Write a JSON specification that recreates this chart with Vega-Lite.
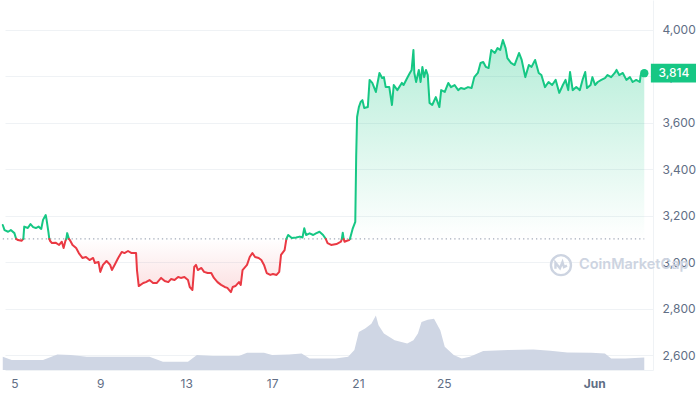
{
"$schema":"https://vega.github.io/schema/vega-lite/v6.json",
"width":648,"height":370,"padding":0,"background":"white",
"config":{"view":{"stroke":null},"font":"Inter"},
"datasets":{
"price":[
{"date":"2024-05-04T11:00","price":3160,"seg":"A","side":"up"},
{"date":"2024-05-04T13:00","price":3138,"seg":"A","side":"up"},
{"date":"2024-05-04T17:00","price":3131,"seg":"A","side":"up"},
{"date":"2024-05-04T20:00","price":3138,"seg":"A","side":"up"},
{"date":"2024-05-05T00:00","price":3125,"seg":"A","side":"up"},
{"date":"2024-05-05T02:00","price":3100,"seg":"A","side":"up"},
{"date":"2024-05-05T02:00","price":3100,"seg":"B","side":"down"},
{"date":"2024-05-05T04:00","price":3095,"seg":"B","side":"down"},
{"date":"2024-05-05T08:00","price":3092,"seg":"B","side":"down"},
{"date":"2024-05-05T10:00","price":3100,"seg":"B","side":"down"},
{"date":"2024-05-05T10:00","price":3100,"seg":"C","side":"up"},
{"date":"2024-05-05T11:00","price":3153,"seg":"C","side":"up"},
{"date":"2024-05-05T15:00","price":3147,"seg":"C","side":"up"},
{"date":"2024-05-05T18:00","price":3164,"seg":"C","side":"up"},
{"date":"2024-05-05T21:00","price":3151,"seg":"C","side":"up"},
{"date":"2024-05-06T00:00","price":3147,"seg":"C","side":"up"},
{"date":"2024-05-06T03:00","price":3153,"seg":"C","side":"up"},
{"date":"2024-05-06T06:00","price":3143,"seg":"C","side":"up"},
{"date":"2024-05-06T08:00","price":3182,"seg":"C","side":"up"},
{"date":"2024-05-06T11:00","price":3203,"seg":"C","side":"up"},
{"date":"2024-05-06T12:00","price":3182,"seg":"C","side":"up"},
{"date":"2024-05-06T14:00","price":3130,"seg":"C","side":"up"},
{"date":"2024-05-06T15:00","price":3100,"seg":"C","side":"up"},
{"date":"2024-05-06T15:00","price":3100,"seg":"D","side":"down"},
{"date":"2024-05-06T16:00","price":3091,"seg":"D","side":"down"},
{"date":"2024-05-06T18:00","price":3082,"seg":"D","side":"down"},
{"date":"2024-05-06T22:00","price":3084,"seg":"D","side":"down"},
{"date":"2024-05-07T02:00","price":3074,"seg":"D","side":"down"},
{"date":"2024-05-07T05:00","price":3088,"seg":"D","side":"down"},
{"date":"2024-05-07T07:00","price":3061,"seg":"D","side":"down"},
{"date":"2024-05-07T09:00","price":3091,"seg":"D","side":"down"},
{"date":"2024-05-07T10:00","price":3100,"seg":"D","side":"down"},
{"date":"2024-05-07T10:00","price":3100,"seg":"E","side":"up"},
{"date":"2024-05-07T11:00","price":3125,"seg":"E","side":"up"},
{"date":"2024-05-07T13:00","price":3100,"seg":"E","side":"up"},
{"date":"2024-05-07T13:00","price":3100,"seg":"F","side":"down"},
{"date":"2024-05-07T14:00","price":3095,"seg":"F","side":"down"},
{"date":"2024-05-07T17:00","price":3074,"seg":"F","side":"down"},
{"date":"2024-05-07T21:00","price":3061,"seg":"F","side":"down"},
{"date":"2024-05-08T00:00","price":3039,"seg":"F","side":"down"},
{"date":"2024-05-08T04:00","price":3018,"seg":"F","side":"down"},
{"date":"2024-05-08T08:00","price":3022,"seg":"F","side":"down"},
{"date":"2024-05-08T12:00","price":3009,"seg":"F","side":"down"},
{"date":"2024-05-08T16:00","price":3018,"seg":"F","side":"down"},
{"date":"2024-05-08T18:00","price":2996,"seg":"F","side":"down"},
{"date":"2024-05-08T22:00","price":3001,"seg":"F","side":"down"},
{"date":"2024-05-09T00:00","price":2958,"seg":"F","side":"down"},
{"date":"2024-05-09T03:00","price":2988,"seg":"F","side":"down"},
{"date":"2024-05-09T07:00","price":3005,"seg":"F","side":"down"},
{"date":"2024-05-09T11:00","price":2988,"seg":"F","side":"down"},
{"date":"2024-05-09T13:00","price":2966,"seg":"F","side":"down"},
{"date":"2024-05-09T16:00","price":2988,"seg":"F","side":"down"},
{"date":"2024-05-09T20:00","price":3018,"seg":"F","side":"down"},
{"date":"2024-05-10T00:00","price":3044,"seg":"F","side":"down"},
{"date":"2024-05-10T03:00","price":3039,"seg":"F","side":"down"},
{"date":"2024-05-10T07:00","price":3048,"seg":"F","side":"down"},
{"date":"2024-05-10T11:00","price":3039,"seg":"F","side":"down"},
{"date":"2024-05-10T16:00","price":3039,"seg":"F","side":"down"},
{"date":"2024-05-10T17:00","price":2966,"seg":"F","side":"down"},
{"date":"2024-05-10T19:00","price":2897,"seg":"F","side":"down"},
{"date":"2024-05-11T00:00","price":2910,"seg":"F","side":"down"},
{"date":"2024-05-11T03:00","price":2914,"seg":"F","side":"down"},
{"date":"2024-05-11T07:00","price":2923,"seg":"F","side":"down"},
{"date":"2024-05-11T11:00","price":2910,"seg":"F","side":"down"},
{"date":"2024-05-11T15:00","price":2910,"seg":"F","side":"down"},
{"date":"2024-05-11T20:00","price":2932,"seg":"F","side":"down"},
{"date":"2024-05-12T00:00","price":2919,"seg":"F","side":"down"},
{"date":"2024-05-12T04:00","price":2914,"seg":"F","side":"down"},
{"date":"2024-05-12T07:00","price":2927,"seg":"F","side":"down"},
{"date":"2024-05-12T11:00","price":2923,"seg":"F","side":"down"},
{"date":"2024-05-12T15:00","price":2936,"seg":"F","side":"down"},
{"date":"2024-05-12T18:00","price":2932,"seg":"F","side":"down"},
{"date":"2024-05-12T22:00","price":2936,"seg":"F","side":"down"},
{"date":"2024-05-13T02:00","price":2923,"seg":"F","side":"down"},
{"date":"2024-05-13T04:00","price":2893,"seg":"F","side":"down"},
{"date":"2024-05-13T07:00","price":2880,"seg":"F","side":"down"},
{"date":"2024-05-13T09:00","price":2979,"seg":"F","side":"down"},
{"date":"2024-05-13T11:00","price":2988,"seg":"F","side":"down"},
{"date":"2024-05-13T13:00","price":2966,"seg":"F","side":"down"},
{"date":"2024-05-13T17:00","price":2975,"seg":"F","side":"down"},
{"date":"2024-05-13T20:00","price":2958,"seg":"F","side":"down"},
{"date":"2024-05-14T00:00","price":2953,"seg":"F","side":"down"},
{"date":"2024-05-14T04:00","price":2953,"seg":"F","side":"down"},
{"date":"2024-05-14T07:00","price":2932,"seg":"F","side":"down"},
{"date":"2024-05-14T11:00","price":2914,"seg":"F","side":"down"},
{"date":"2024-05-14T15:00","price":2902,"seg":"F","side":"down"},
{"date":"2024-05-14T19:00","price":2893,"seg":"F","side":"down"},
{"date":"2024-05-14T22:00","price":2889,"seg":"F","side":"down"},
{"date":"2024-05-15T02:00","price":2871,"seg":"F","side":"down"},
{"date":"2024-05-15T04:00","price":2893,"seg":"F","side":"down"},
{"date":"2024-05-15T07:00","price":2897,"seg":"F","side":"down"},
{"date":"2024-05-15T11:00","price":2914,"seg":"F","side":"down"},
{"date":"2024-05-15T13:00","price":2902,"seg":"F","side":"down"},
{"date":"2024-05-15T15:00","price":2966,"seg":"F","side":"down"},
{"date":"2024-05-15T20:00","price":2988,"seg":"F","side":"down"},
{"date":"2024-05-15T23:00","price":3022,"seg":"F","side":"down"},
{"date":"2024-05-16T02:00","price":3039,"seg":"F","side":"down"},
{"date":"2024-05-16T05:00","price":3022,"seg":"F","side":"down"},
{"date":"2024-05-16T09:00","price":3018,"seg":"F","side":"down"},
{"date":"2024-05-16T12:00","price":3009,"seg":"F","side":"down"},
{"date":"2024-05-16T15:00","price":2988,"seg":"F","side":"down"},
{"date":"2024-05-16T18:00","price":2953,"seg":"F","side":"down"},
{"date":"2024-05-16T22:00","price":2945,"seg":"F","side":"down"},
{"date":"2024-05-17T01:00","price":2949,"seg":"F","side":"down"},
{"date":"2024-05-17T05:00","price":2945,"seg":"F","side":"down"},
{"date":"2024-05-17T08:00","price":2958,"seg":"F","side":"down"},
{"date":"2024-05-17T10:00","price":3031,"seg":"F","side":"down"},
{"date":"2024-05-17T14:00","price":3052,"seg":"F","side":"down"},
{"date":"2024-05-17T16:00","price":3100,"seg":"F","side":"down"},
{"date":"2024-05-17T16:00","price":3100,"seg":"G","side":"up"},
{"date":"2024-05-17T18:00","price":3117,"seg":"G","side":"up"},
{"date":"2024-05-17T22:00","price":3104,"seg":"G","side":"up"},
{"date":"2024-05-18T03:00","price":3106,"seg":"G","side":"up"},
{"date":"2024-05-18T07:00","price":3110,"seg":"G","side":"up"},
{"date":"2024-05-18T10:00","price":3106,"seg":"G","side":"up"},
{"date":"2024-05-18T12:00","price":3146,"seg":"G","side":"up"},
{"date":"2024-05-18T14:00","price":3117,"seg":"G","side":"up"},
{"date":"2024-05-18T18:00","price":3124,"seg":"G","side":"up"},
{"date":"2024-05-18T22:00","price":3117,"seg":"G","side":"up"},
{"date":"2024-05-19T01:00","price":3124,"seg":"G","side":"up"},
{"date":"2024-05-19T05:00","price":3131,"seg":"G","side":"up"},
{"date":"2024-05-19T09:00","price":3117,"seg":"G","side":"up"},
{"date":"2024-05-19T12:00","price":3100,"seg":"G","side":"up"},
{"date":"2024-05-19T12:00","price":3100,"seg":"H","side":"down"},
{"date":"2024-05-19T14:00","price":3082,"seg":"H","side":"down"},
{"date":"2024-05-19T18:00","price":3074,"seg":"H","side":"down"},
{"date":"2024-05-20T00:00","price":3078,"seg":"H","side":"down"},
{"date":"2024-05-20T05:00","price":3088,"seg":"H","side":"down"},
{"date":"2024-05-20T06:00","price":3100,"seg":"H","side":"down"},
{"date":"2024-05-20T06:00","price":3100,"seg":"I","side":"up"},
{"date":"2024-05-20T07:00","price":3127,"seg":"I","side":"up"},
{"date":"2024-05-20T08:00","price":3100,"seg":"I","side":"up"},
{"date":"2024-05-20T08:00","price":3100,"seg":"J","side":"down"},
{"date":"2024-05-20T09:00","price":3088,"seg":"J","side":"down"},
{"date":"2024-05-20T11:00","price":3091,"seg":"J","side":"down"},
{"date":"2024-05-20T14:00","price":3095,"seg":"J","side":"down"},
{"date":"2024-05-20T15:00","price":3100,"seg":"J","side":"down"},
{"date":"2024-05-20T15:00","price":3100,"seg":"K","side":"up"},
{"date":"2024-05-20T18:00","price":3143,"seg":"K","side":"up"},
{"date":"2024-05-20T21:00","price":3173,"seg":"K","side":"up"},
{"date":"2024-05-20T22:00","price":3453,"seg":"K","side":"up"},
{"date":"2024-05-20T23:00","price":3625,"seg":"K","side":"up"},
{"date":"2024-05-21T01:00","price":3668,"seg":"K","side":"up"},
{"date":"2024-05-21T03:00","price":3690,"seg":"K","side":"up"},
{"date":"2024-05-21T05:00","price":3698,"seg":"K","side":"up"},
{"date":"2024-05-21T07:00","price":3664,"seg":"K","side":"up"},
{"date":"2024-05-21T11:00","price":3668,"seg":"K","side":"up"},
{"date":"2024-05-21T13:00","price":3785,"seg":"K","side":"up"},
{"date":"2024-05-21T16:00","price":3772,"seg":"K","side":"up"},
{"date":"2024-05-21T20:00","price":3733,"seg":"K","side":"up"},
{"date":"2024-05-22T00:00","price":3815,"seg":"K","side":"up"},
{"date":"2024-05-22T03:00","price":3793,"seg":"K","side":"up"},
{"date":"2024-05-22T05:00","price":3797,"seg":"K","side":"up"},
{"date":"2024-05-22T07:00","price":3754,"seg":"K","side":"up"},
{"date":"2024-05-22T11:00","price":3754,"seg":"K","side":"up"},
{"date":"2024-05-22T14:00","price":3677,"seg":"K","side":"up"},
{"date":"2024-05-22T16:00","price":3763,"seg":"K","side":"up"},
{"date":"2024-05-22T20:00","price":3741,"seg":"K","side":"up"},
{"date":"2024-05-23T01:00","price":3772,"seg":"K","side":"up"},
{"date":"2024-05-23T03:00","price":3763,"seg":"K","side":"up"},
{"date":"2024-05-23T07:00","price":3793,"seg":"K","side":"up"},
{"date":"2024-05-23T10:00","price":3815,"seg":"K","side":"up"},
{"date":"2024-05-23T12:00","price":3828,"seg":"K","side":"up"},
{"date":"2024-05-23T14:00","price":3914,"seg":"K","side":"up"},
{"date":"2024-05-23T15:00","price":3815,"seg":"K","side":"up"},
{"date":"2024-05-23T17:00","price":3776,"seg":"K","side":"up"},
{"date":"2024-05-23T20:00","price":3828,"seg":"K","side":"up"},
{"date":"2024-05-23T22:00","price":3776,"seg":"K","side":"up"},
{"date":"2024-05-24T00:00","price":3841,"seg":"K","side":"up"},
{"date":"2024-05-24T02:00","price":3797,"seg":"K","side":"up"},
{"date":"2024-05-24T04:00","price":3828,"seg":"K","side":"up"},
{"date":"2024-05-24T06:00","price":3806,"seg":"K","side":"up"},
{"date":"2024-05-24T08:00","price":3686,"seg":"K","side":"up"},
{"date":"2024-05-24T11:00","price":3677,"seg":"K","side":"up"},
{"date":"2024-05-24T15:00","price":3711,"seg":"K","side":"up"},
{"date":"2024-05-24T19:00","price":3668,"seg":"K","side":"up"},
{"date":"2024-05-24T21:00","price":3741,"seg":"K","side":"up"},
{"date":"2024-05-25T01:00","price":3733,"seg":"K","side":"up"},
{"date":"2024-05-25T05:00","price":3772,"seg":"K","side":"up"},
{"date":"2024-05-25T08:00","price":3754,"seg":"K","side":"up"},
{"date":"2024-05-25T12:00","price":3763,"seg":"K","side":"up"},
{"date":"2024-05-25T16:00","price":3741,"seg":"K","side":"up"},
{"date":"2024-05-25T19:00","price":3750,"seg":"K","side":"up"},
{"date":"2024-05-25T23:00","price":3746,"seg":"K","side":"up"},
{"date":"2024-05-26T03:00","price":3754,"seg":"K","side":"up"},
{"date":"2024-05-26T07:00","price":3750,"seg":"K","side":"up"},
{"date":"2024-05-26T10:00","price":3797,"seg":"K","side":"up"},
{"date":"2024-05-26T14:00","price":3815,"seg":"K","side":"up"},
{"date":"2024-05-26T17:00","price":3858,"seg":"K","side":"up"},
{"date":"2024-05-26T20:00","price":3862,"seg":"K","side":"up"},
{"date":"2024-05-26T23:00","price":3841,"seg":"K","side":"up"},
{"date":"2024-05-27T02:00","price":3836,"seg":"K","side":"up"},
{"date":"2024-05-27T05:00","price":3914,"seg":"K","side":"up"},
{"date":"2024-05-27T09:00","price":3901,"seg":"K","side":"up"},
{"date":"2024-05-27T12:00","price":3922,"seg":"K","side":"up"},
{"date":"2024-05-27T15:00","price":3914,"seg":"K","side":"up"},
{"date":"2024-05-27T18:00","price":3957,"seg":"K","side":"up"},
{"date":"2024-05-27T21:00","price":3922,"seg":"K","side":"up"},
{"date":"2024-05-27T23:00","price":3879,"seg":"K","side":"up"},
{"date":"2024-05-28T03:00","price":3858,"seg":"K","side":"up"},
{"date":"2024-05-28T07:00","price":3849,"seg":"K","side":"up"},
{"date":"2024-05-28T12:00","price":3901,"seg":"K","side":"up"},
{"date":"2024-05-28T15:00","price":3871,"seg":"K","side":"up"},
{"date":"2024-05-28T19:00","price":3797,"seg":"K","side":"up"},
{"date":"2024-05-28T23:00","price":3849,"seg":"K","side":"up"},
{"date":"2024-05-29T02:00","price":3841,"seg":"K","side":"up"},
{"date":"2024-05-29T06:00","price":3871,"seg":"K","side":"up"},
{"date":"2024-05-29T10:00","price":3815,"seg":"K","side":"up"},
{"date":"2024-05-29T13:00","price":3806,"seg":"K","side":"up"},
{"date":"2024-05-29T17:00","price":3754,"seg":"K","side":"up"},
{"date":"2024-05-29T21:00","price":3776,"seg":"K","side":"up"},
{"date":"2024-05-30T01:00","price":3763,"seg":"K","side":"up"},
{"date":"2024-05-30T05:00","price":3785,"seg":"K","side":"up"},
{"date":"2024-05-30T09:00","price":3729,"seg":"K","side":"up"},
{"date":"2024-05-30T13:00","price":3763,"seg":"K","side":"up"},
{"date":"2024-05-30T16:00","price":3785,"seg":"K","side":"up"},
{"date":"2024-05-30T19:00","price":3741,"seg":"K","side":"up"},
{"date":"2024-05-30T21:00","price":3819,"seg":"K","side":"up"},
{"date":"2024-05-31T00:00","price":3741,"seg":"K","side":"up"},
{"date":"2024-05-31T04:00","price":3754,"seg":"K","side":"up"},
{"date":"2024-05-31T08:00","price":3741,"seg":"K","side":"up"},
{"date":"2024-05-31T11:00","price":3785,"seg":"K","side":"up"},
{"date":"2024-05-31T14:00","price":3819,"seg":"K","side":"up"},
{"date":"2024-05-31T16:00","price":3750,"seg":"K","side":"up"},
{"date":"2024-05-31T20:00","price":3763,"seg":"K","side":"up"},
{"date":"2024-05-31T22:00","price":3797,"seg":"K","side":"up"},
{"date":"2024-06-01T01:00","price":3763,"seg":"K","side":"up"},
{"date":"2024-06-01T04:00","price":3776,"seg":"K","side":"up"},
{"date":"2024-06-01T08:00","price":3785,"seg":"K","side":"up"},
{"date":"2024-06-01T12:00","price":3793,"seg":"K","side":"up"},
{"date":"2024-06-01T15:00","price":3806,"seg":"K","side":"up"},
{"date":"2024-06-01T19:00","price":3797,"seg":"K","side":"up"},
{"date":"2024-06-01T23:00","price":3815,"seg":"K","side":"up"},
{"date":"2024-06-02T01:00","price":3828,"seg":"K","side":"up"},
{"date":"2024-06-02T04:00","price":3806,"seg":"K","side":"up"},
{"date":"2024-06-02T08:00","price":3815,"seg":"K","side":"up"},
{"date":"2024-06-02T12:00","price":3785,"seg":"K","side":"up"},
{"date":"2024-06-02T16:00","price":3797,"seg":"K","side":"up"},
{"date":"2024-06-02T19:00","price":3776,"seg":"K","side":"up"},
{"date":"2024-06-02T23:00","price":3785,"seg":"K","side":"up"},
{"date":"2024-06-03T03:00","price":3776,"seg":"K","side":"up"},
{"date":"2024-06-03T04:00","price":3806,"seg":"K","side":"up"},
{"date":"2024-06-03T08:00","price":3814,"seg":"K","side":"up"}
],
"volume":[
{"date":"2024-05-04T11:00","volume":13.2},
{"date":"2024-05-04T21:00","volume":10},
{"date":"2024-05-06T08:00","volume":10},
{"date":"2024-05-07T00:00","volume":15.6},
{"date":"2024-05-07T15:00","volume":14.9},
{"date":"2024-05-08T09:00","volume":13.2},
{"date":"2024-05-11T07:00","volume":13.2},
{"date":"2024-05-11T22:00","volume":8.3},
{"date":"2024-05-13T02:00","volume":8.3},
{"date":"2024-05-13T12:00","volume":14.9},
{"date":"2024-05-14T06:00","volume":13.9},
{"date":"2024-05-15T11:00","volume":13.9},
{"date":"2024-05-15T20:00","volume":17.2},
{"date":"2024-05-16T15:00","volume":17.2},
{"date":"2024-05-17T00:00","volume":14.9},
{"date":"2024-05-17T19:00","volume":15.6},
{"date":"2024-05-18T09:00","volume":16.6},
{"date":"2024-05-18T18:00","volume":11.6},
{"date":"2024-05-19T23:00","volume":11.6},
{"date":"2024-05-20T13:00","volume":13.2},
{"date":"2024-05-20T20:00","volume":19.9},
{"date":"2024-05-21T01:00","volume":38.1},
{"date":"2024-05-21T08:00","volume":41.4},
{"date":"2024-05-21T15:00","volume":46.3},
{"date":"2024-05-21T20:00","volume":54.6},
{"date":"2024-05-21T23:00","volume":44.7},
{"date":"2024-05-22T05:00","volume":36.4},
{"date":"2024-05-22T17:00","volume":29.8},
{"date":"2024-05-23T07:00","volume":26.5},
{"date":"2024-05-23T14:00","volume":29.8},
{"date":"2024-05-23T19:00","volume":36.4},
{"date":"2024-05-23T23:00","volume":48},
{"date":"2024-05-24T06:00","volume":50.3},
{"date":"2024-05-24T13:00","volume":51.3},
{"date":"2024-05-24T20:00","volume":39.7},
{"date":"2024-05-25T01:00","volume":23.2},
{"date":"2024-05-25T11:00","volume":14.9},
{"date":"2024-05-25T20:00","volume":11.6},
{"date":"2024-05-26T05:00","volume":13.2},
{"date":"2024-05-26T20:00","volume":18.9},
{"date":"2024-05-28T00:00","volume":19.9},
{"date":"2024-05-29T04:00","volume":20.5},
{"date":"2024-05-29T23:00","volume":19.2},
{"date":"2024-05-30T18:00","volume":17.5},
{"date":"2024-05-31T21:00","volume":17.2},
{"date":"2024-06-01T12:00","volume":16.6},
{"date":"2024-06-01T19:00","volume":11.6},
{"date":"2024-06-02T11:00","volume":11.6},
{"date":"2024-06-03T08:00","volume":12.6}
],
"last":[{"date":"2024-06-03T08:00","price":3814}],
"brand":[{"date":"2024-05-31T07:00","price":2987,"name":"CoinMarketCap"}]
},
"encoding":{
"x":{"field":"date","type":"temporal",
"scale":{"domain":[{"year":2024,"month":5,"date":4,"hours":13,"minutes":30},{"year":2024,"month":6,"date":3,"hours":17,"minutes":45}]},
"axis":{"title":null,"grid":false,"ticks":false,"tickSize":0,"domain":true,"domainColor":"#eff2f5","labelPadding":8,"labelFlush":false,"labelFontSize":12,"labelColor":"#616e85","labelFont":"Inter",
"values":[{"year":2024,"month":5,"date":5},{"year":2024,"month":5,"date":9},{"year":2024,"month":5,"date":13},{"year":2024,"month":5,"date":17},{"year":2024,"month":5,"date":21},{"year":2024,"month":5,"date":25},{"year":2024,"month":6,"date":1}],
"labelExpr":"date(datum.value) == 1 ? 'Jun' : '' + date(datum.value)",
"labelFontWeight":{"condition":{"test":"date(datum.value) == 1","value":"bold"},"value":"normal"}}}
},
"layer":[
{"data":{"name":"volume"},
"mark":{"type":"area","color":"#cfd6e4","opacity":1},
"encoding":{
"y":{"field":"volume","type":"quantitative","scale":{"domain":[0,370],"nice":false,"zero":true},"axis":null}}},
{"data":{"name":"price"},"transform":[{"filter":"datum.seg == 'K'"}],
"mark":{"type":"area","color":{"gradient":"linear","x1":0,"y1":0,"x2":0,"y2":1,"stops":[{"offset":0,"color":"rgba(22,199,132,0.32)"},{"offset":1,"color":"rgba(22,199,132,0.0)"}]}},
"encoding":{
"y":{"field":"price","type":"quantitative","scale":{"domain":[2535.4,4129.2],"nice":false,"zero":false},
"axis":{"orient":"right","title":null,"values":[2600,2800,3000,3200,3400,3600,3800,4000],"format":",.0f","grid":true,"gridColor":"#eff2f5","ticks":false,"tickSize":0,"domain":true,"domainColor":"#eff2f5","labelPadding":9,"labelFontSize":12,"labelColor":"#616e85","labelFont":"Inter"}},
"y2":{"datum":3100}}},
{"data":{"name":"price"},"transform":[{"filter":"datum.seg == 'F'"}],
"mark":{"type":"area","color":{"gradient":"linear","x1":0,"y1":0,"x2":0,"y2":1,"stops":[{"offset":0,"color":"rgba(234,57,67,0.0)"},{"offset":1,"color":"rgba(234,57,67,0.16)"}]}},
"encoding":{
"y":{"field":"price","type":"quantitative","scale":{"domain":[2535.4,4129.2],"nice":false,"zero":false},"axis":null},
"y2":{"datum":3100}}},
{"data":{"name":"price"},
"mark":{"type":"line","color":"#a3abb9","strokeDash":[1.3,3],"strokeWidth":1.2},
"encoding":{"y":{"datum":3100,"type":"quantitative","scale":{"domain":[2535.4,4129.2],"nice":false,"zero":false},"axis":null}}},
{"data":{"name":"price"},
"mark":{"type":"line","strokeWidth":2,"strokeJoin":"round","strokeCap":"round"},
"encoding":{
"y":{"field":"price","type":"quantitative","scale":{"domain":[2535.4,4129.2],"nice":false,"zero":false},"axis":null},
"color":{"field":"side","type":"nominal","scale":{"domain":["up","down"],"range":["#16c784","#ea3943"]},"legend":null},
"detail":{"field":"seg","type":"nominal"}}},
{"data":{"name":"last"},
"mark":{"type":"point","filled":true,"color":"#16c784","size":70,"opacity":1},
"encoding":{
"y":{"field":"price","type":"quantitative","scale":{"domain":[2535.4,4129.2],"nice":false,"zero":false},"axis":null}}},
{"data":{"name":"last"},
"mark":{"type":"point","filled":true,"color":"#16c784","opacity":1,"shape":"M-1,-0.406L1,-0.406L1,0.406L-1,0.406Z","size":2116,"xOffset":29.6},
"encoding":{
"y":{"field":"price","type":"quantitative","scale":{"domain":[2535.4,4129.2],"nice":false,"zero":false},"axis":null}}},
{"data":{"name":"last"},
"mark":{"type":"text","color":"white","fontSize":12,"fontWeight":500,"font":"Inter","align":"center","baseline":"middle","dx":29.6},
"encoding":{
"y":{"field":"price","type":"quantitative","scale":{"domain":[2535.4,4129.2],"nice":false,"zero":false},"axis":null},
"text":{"field":"price","type":"quantitative","format":",.0f"}}},
{"data":{"name":"brand"},
"mark":{"type":"point","filled":false,"color":"#cdd4e1","strokeWidth":2.4,"opacity":1,"size":400,"xOffset":-18,"shape":"M-1,0A1,1 0 1,0 1,0A1,1 0 1,0 -1,0M-0.55,0.35L-0.55,-0.25L-0.1,0.3L0.15,-0.3L0.3,0.2L0.6,0.05"},
"encoding":{
"y":{"field":"price","type":"quantitative","scale":{"domain":[2535.4,4129.2],"nice":false,"zero":false},"axis":null}}},
{"data":{"name":"brand"},
"mark":{"type":"text","color":"#cdd4e1","fontSize":14.5,"fontWeight":600,"font":"Inter","align":"left","baseline":"middle"},
"encoding":{
"y":{"field":"price","type":"quantitative","scale":{"domain":[2535.4,4129.2],"nice":false,"zero":false},"axis":null},
"text":{"field":"name","type":"nominal"}}}
],
"resolve":{"scale":{"y":"independent"}}
}
